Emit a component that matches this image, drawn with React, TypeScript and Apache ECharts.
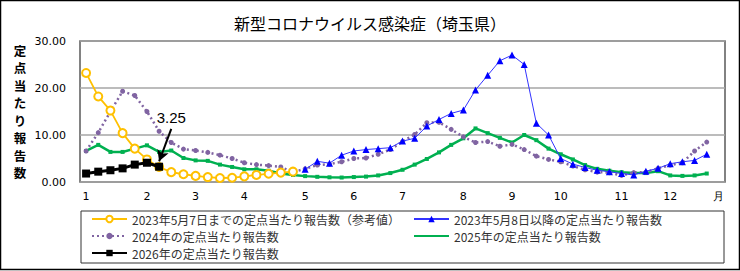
import React, { useEffect, useRef } from "react";
import * as echarts from "echarts";

const weeks: string[] = Array.from({ length: 53 }, (_, i) => String(i + 1));
const monthTickIndex = [0, 5, 9, 13, 18, 22, 26, 31, 35, 39, 44, 48, 52];
const monthTickLabels = ["1", "2", "3", "4", "5", "6", "7", "8", "9", "10", "11", "12", "月"];

const seriesNames = [
  "2023年5月7日までの定点当たり報告数（参考値）",
  "2023年5月8日以降の定点当たり報告数",
  "2024年の定点当たり報告数",
  "2025年の定点当たり報告数",
  "2026年の定点当たり報告数",
];

// 2023 up to May 7 (weeks 1-18)
const values2023a = [23.2, 18.2, 15.2, 10.4, 7.1, 4.8, 3.2, 2.1, 1.65, 1.3, 1.05, 0.85, 0.9, 1.2, 1.5, 1.75, 2.0, 2.2];
// 2023 from May 8 (weeks 19-52)
const values2023b = [2.7, 4.4, 4.0, 5.7, 6.6, 6.9, 7.1, 7.3, 8.7, 9.3, 11.9, 13.3, 14.6, 15.3,
  19.6, 22.7, 25.8, 27.0, 25.0, 12.5, 10.0, 5.0, 3.8, 3.1, 2.5, 2.2, 1.8, 1.5, 2.3, 2.9, 3.9, 4.3, 4.6, 5.9];
const values2024 = [6.6, 10.5, 15.0, 19.3, 18.4, 15.0, 10.8, 8.4, 7.0, 6.7, 6.3, 5.7, 5.0, 4.1, 3.7, 3.5, 3.2, 2.1,
  2.8, 3.6, 3.8, 4.3, 5.0, 5.1, 5.9, 6.9, 8.6, 10.1, 12.6, 12.7, 11.2, 9.6, 8.4, 8.6, 7.6, 8.0, 6.9, 5.5,
  4.8, 4.3, 3.4, 2.6, 2.1, 2.0, 1.4, 2.0, 2.1, 2.9, 3.6, 4.1, 6.6, 8.5];
const values2025 = [6.6, 7.9, 6.4, 6.4, 7.1, 7.8, 6.4, 6.7, 5.1, 4.6, 4.5, 3.7, 3.2, 2.7, 2.7, 2.4, 1.8, 1.5,
  1.25, 1.1, 1.0, 0.95, 1.05, 1.15, 1.4, 1.9, 2.6, 3.7, 4.9, 6.3, 7.9, 9.3, 11.4, 10.4, 9.4, 8.4, 10.0, 8.9,
  7.1, 5.9, 4.8, 3.6, 2.8, 2.4, 2.1, 1.9, 1.9, 2.3, 1.4, 1.3, 1.4, 1.8];
const values2026 = [1.8, 2.2, 2.5, 2.9, 3.7, 4.1, 3.25];

const annotationText = "3.25";

export default function App() {
  const ref = useRef<HTMLDivElement>(null);
  useEffect(() => {
    if (!ref.current) return;
    const chart = echarts.init(ref.current, undefined, { renderer: "svg" });
    const numFont = "DejaVu Sans";
    const jpFont = "Noto Sans CJK JP";
    const blueData = [...values2023a.map(() => null as number | null), ...values2023b];
    const legendText = { fontFamily: jpFont, fontSize: 12, color: "#333", lineHeight: 12 };
    const option: any = {
      animation: false,
      backgroundColor: "#fff",
      title: {
        text: "新型コロナウイルス感染症（埼玉県）",
        left: "center",
        top: 10,
        textStyle: { fontFamily: jpFont, fontSize: 16, fontWeight: "normal", color: "#000" },
      },
      grid: {
        left: 80, right: 15, top: 41, bottom: 89,
        show: true, borderColor: "#595959", borderWidth: 1.5,
      },
      xAxis: {
        type: "category",
        data: weeks,
        boundaryGap: true,
        axisLine: { show: false },
        axisTick: { show: false },
        splitLine: { show: false },
        axisLabel: {
          interval: (index: number) => monthTickIndex.includes(index),
          formatter: (_v: string, index: number) => {
            const k = monthTickIndex.indexOf(index);
            return k >= 0 ? monthTickLabels[k] : "";
          },
          margin: 9,
          fontFamily: numFont, fontSize: 11, color: "#000",
        },
      },
      yAxis: {
        type: "value",
        min: 0, max: 30, interval: 10,
        name: "定点当たり報告数".split("").join("\n"),
        nameLocation: "middle",
        nameRotate: 0,
        nameGap: 60,
        nameTextStyle: {
          fontFamily: jpFont, fontSize: 12.5, fontWeight: "bold", color: "#000",
          lineHeight: 17.5, align: "center", verticalAlign: "middle",
        },
        axisLine: { show: false },
        axisTick: { show: false },
        axisLabel: {
          formatter: (v: number) => v.toFixed(2),
          margin: 14, fontFamily: numFont, fontSize: 11, color: "#000",
        },
        splitLine: { show: true, lineStyle: { color: "#A6A6A6", width: 1.5 } },
      },
      legend: [
        {
          data: [seriesNames[0], seriesNames[2], seriesNames[4]],
          orient: "vertical",
          left: 91, top: 213, padding: 0,
          itemWidth: 35, itemHeight: 8, itemGap: 5,
          textStyle: legendText,
        },
        {
          data: [seriesNames[1], { name: seriesNames[3], itemStyle: { opacity: 0 } }],
          orient: "vertical",
          left: 413, top: 213, padding: 0,
          itemWidth: 35, itemHeight: 8, itemGap: 5,
          textStyle: legendText,
        },
      ],
      graphic: [
        {
          type: "rect",
          shape: { x: 81, y: 211, width: 643, height: 52 },
          style: { fill: "none", stroke: "#333", lineWidth: 1 },
          silent: true,
        },
        {
          type: "rect",
          shape: { x: 0.5, y: 0.5, width: 739, height: 269 },
          style: { fill: "none", stroke: "#000", lineWidth: 1.5 },
          silent: true,
        },
      ],
      series: [
        {
          name: seriesNames[3],
          type: "line",
          data: values2025,
          symbol: "rect",
          symbolSize: 4,
          itemStyle: { color: "#00B050" },
          lineStyle: { color: "#00B050", width: 2.5 },
          z: 2,
        },
        {
          name: seriesNames[2],
          type: "line",
          data: values2024,
          symbol: "circle",
          symbolSize: 5,
          itemStyle: { color: "#8064A2" },
          lineStyle: { color: "#8064A2", width: 2.5, type: [2, 3] },
          z: 3,
        },
        {
          name: seriesNames[1],
          type: "line",
          data: blueData,
          symbol: "triangle",
          symbolSize: 7,
          itemStyle: { color: "#0000FF" },
          lineStyle: { color: "#3333FF", width: 1 },
          z: 4,
        },
        {
          name: seriesNames[0],
          type: "line",
          data: values2023a,
          symbol: "emptyCircle",
          symbolSize: 8,
          itemStyle: { color: "#FFC000", borderWidth: 1.2 },
          lineStyle: { color: "#FFC000", width: 1.8 },
          z: 5,
        },
        {
          name: seriesNames[4],
          type: "line",
          data: values2026,
          symbol: "rect",
          symbolSize: 8,
          itemStyle: { color: "#000" },
          lineStyle: { color: "#000", width: 3 },
          z: 6,
          markLine: {
            silent: true,
            symbol: ["none", "arrow"],
            symbolSize: [9, 11],
            label: { show: false },
            lineStyle: { color: "#000", width: 2, type: "solid" },
            data: [[{ coord: [7, 11.3] }, { coord: [6, 4.4] }]],
          },
          markPoint: {
            silent: true,
            symbol: "circle",
            symbolSize: 0,
            label: {
              show: true, position: "inside", formatter: annotationText,
              fontFamily: "Liberation Sans", fontSize: 15, color: "#000",
            },
            data: [{ coord: [7, 13.8] }],
          },
        },
      ],
    };
    chart.setOption(option);
    return () => chart.dispose();
  }, []);
  return (
    <div
      ref={ref}
      style={{ position: "absolute", left: 0, top: 0, width: 740, height: 271 }}
    />
  );
}
